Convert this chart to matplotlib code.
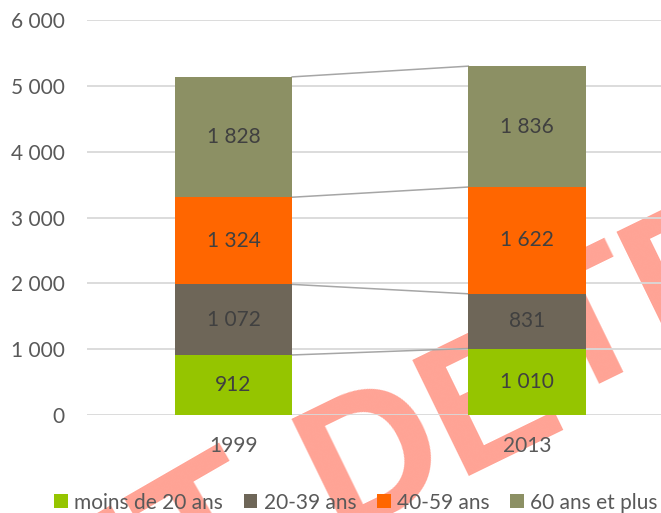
import numpy as np
import matplotlib.pyplot as plt
from matplotlib.patches import Patch

plt.rcParams['font.family'] = ['Lato', 'DejaVu Sans']

years = ['1999', '2013']
groups = ['moins de 20 ans', '20-39 ans', '40-59 ans', '60 ans et plus']
moins_20 = [912, 1010]
ans_20_39 = [1072, 831]
ans_40_59 = [1324, 1622]
plus_60 = [1828, 1836]
colors = ['#95c500', '#6e6658', '#ff6600', '#8c9064']

W, H = 661, 513
fig = plt.figure(figsize=(W / 100, H / 100), dpi=100)

# watermark behind the chart, one text per word
wm = dict(rotation=26, rotation_mode='anchor', va='baseline', fontsize=135,
          fontweight='bold', family='Liberation Sans', color='#ffa395', zorder=-5)
fig.text(285 / W, 1 - 547 / H, 'DOCUMENT', rotation=30, ha='right',
         **{k: v for k, v in wm.items() if k != 'rotation'})
fig.text(336 / W, 1 - 535 / H, 'DE', ha='left', **wm)
fig.text(560 / W, 1 - 402 / H, 'TRAVAIL', ha='left', **wm)

ax = fig.add_axes([86.75 / W, (H - 415) / H, 587 / W, 395 / H])
ax.set_facecolor('none')

x = np.arange(len(years))
bw = 0.4
bottom = np.zeros(len(years))
for vals, col in zip([moins_20, ans_20_39, ans_40_59, plus_60], colors):
    vals = np.array(vals)
    ax.bar(x, vals, bw, bottom=bottom, color=col, zorder=3)
    for xi, b, v in zip(x, bottom, vals):
        ax.text(xi, b + v / 2, f'{v:,}'.replace(',', ' '), ha='center', va='center',
                fontsize=15, color='#404040', zorder=4)
    top = bottom + vals
    ax.plot([x[0] + bw / 2, x[1] - bw / 2], [top[0], top[1]], color='#a6a6a6',
            lw=1.1, zorder=2)
    bottom = top

ax.set_xlim(-0.5, 1.5)
ax.set_ylim(0, 6000)
yt = np.arange(0, 6001, 1000)
ax.set_yticks(yt)
ax.set_yticklabels([f'{v:,}'.replace(',', ' ') for v in yt])
ax.set_xticks(x)
ax.set_xticklabels(years)
ax.yaxis.grid(True, color='#d9d9d9', lw=1.3, zorder=1)
ax.set_axisbelow(True)
for s in ax.spines.values():
    s.set_visible(False)
ax.tick_params(axis='both', length=0, labelsize=15, labelcolor='#595959')
ax.tick_params(axis='y', pad=16)
ax.tick_params(axis='x', pad=15)

handles = [Patch(facecolor=c) for c in colors]
fig.legend(handles, groups, loc='center', bbox_to_anchor=(356 / W, 0.02), ncol=4,
           frameon=False, handlelength=0.65, handleheight=0.65, handletextpad=0.3,
           columnspacing=1.0, fontsize=15, labelcolor='#595959', borderaxespad=0)

fig.savefig('out.png', dpi=100)
